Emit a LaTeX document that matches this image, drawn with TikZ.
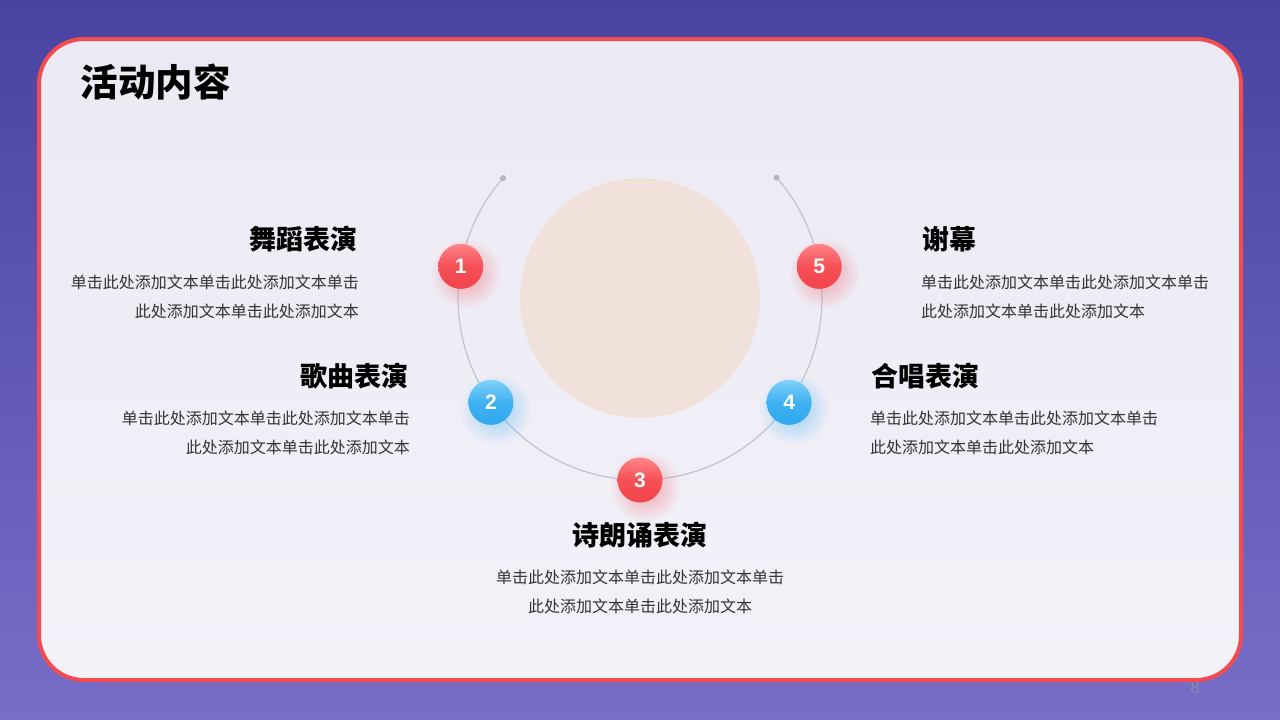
\documentclass[tikz,border=0pt]{standalone}
\usepackage{fontspec}
\newfontfamily\cjk{Noto Sans CJK SC}
\newfontfamily\digits{Liberation Sans}
\usetikzlibrary{fadings}

\definecolor{bgtop}{HTML}{4843A0}
\definecolor{bgbot}{HTML}{786EC8}
\definecolor{cardtop}{HTML}{EBEAF4}
\definecolor{cardbot}{HTML}{F3F2F9}
\definecolor{cardline}{HTML}{F24B50}
\definecolor{ringline}{HTML}{C3C3CF}
\definecolor{dotgray}{HTML}{B2B6C4}
\definecolor{disc}{HTML}{F0E2DA}
\definecolor{redhi}{HTML}{FF8487}
\definecolor{redlo}{HTML}{F2434B}
\definecolor{bluehi}{HTML}{80D2FA}
\definecolor{bluelo}{HTML}{2EA8EE}
\definecolor{bodytext}{HTML}{333333}
\definecolor{pagenum}{HTML}{8A88A8}

\tikzfading[name=glow, inner color=transparent!55, outer color=transparent!100]

\tikzset{
  ball/.style={circle, minimum size=45pt, inner sep=0pt, text=white,
    font=\digits\bfseries\fontsize{21}{21}\selectfont, shading angle=45},
  redball/.style={ball, top color=redhi, bottom color=redlo, middle color=redlo!80!redhi},
  blueball/.style={ball, top color=bluehi, bottom color=bluelo, middle color=bluelo!80!bluehi},
  head/.style={font=\cjk\bfseries\fontsize{27}{27}\selectfont, text=black, inner sep=0pt},
  body/.style={font=\cjk\fontsize{16}{29}\selectfont, text=bodytext, inner sep=0pt},
}

\begin{document}
\begin{tikzpicture}[x=1pt,y=-1pt]
\useasboundingbox (0,0) rectangle (1280,720);

% Page and card.
\shade[top color=bgtop, bottom color=bgbot] (0,0) rectangle (1280,720);
\node[font=\digits\fontsize{17}{17}\selectfont, text=pagenum] (page) at (1195,688) {8};
\shade[top color=cardtop, bottom color=cardbot, rounded corners=45pt] (39,39) rectangle (1241,680);
\draw[cardline, line width=4pt, rounded corners=45pt] (39,39) rectangle (1241,680);

\node[anchor=west, font=\cjk\bfseries\fontsize{37.5}{37.5}\selectfont] (title) at (77,82) {活动内容};

% Centre disc and ring.
\coordinate (c) at (640,298);
\fill[disc] (c) circle (120);
\coordinate (arcL) at ([shift={(221.2:182)}]c);
\coordinate (arcR) at ([shift={(-41.4:182)}]c);
\draw[ringline, line width=1.2pt] (arcL) arc[start angle=221.2, end angle=-41.4, radius=182];
\fill[dotgray] (arcL) circle (3);
\fill[dotgray] (arcR) circle (3);

% Numbered balls with soft glow.
\foreach \n/\a/\c in {1/190/red, 2/145/blue, 3/90/red, 4/35/blue, 5/-10/red}{
  \fill[\c lo, path fading=glow] ([shift={(\a:182)}]c) ++(5,7) circle (36);
  \node[\c ball] (n\n) at ([shift={(\a:182)}]c) {\n};
}

% Item texts.
\node[head, anchor=east] (h1) at (358,239) {舞蹈表演};
\node[body, anchor=east, align=right] (t1) at (359,296.5) {单击此处添加文本单击此处添加文本单击\\此处添加文本单击此处添加文本};

\node[head, anchor=east] (h2) at (409,376) {歌曲表演};
\node[body, anchor=east, align=right] (t2) at (410,432.5) {单击此处添加文本单击此处添加文本单击\\此处添加文本单击此处添加文本};

\node[head] (h3) at (640,535) {诗朗诵表演};
\node[body, align=center] (t3) at (640,591.5) {单击此处添加文本单击此处添加文本单击\\此处添加文本单击此处添加文本};

\node[head, anchor=west] (h4) at (871,376) {合唱表演};
\node[body, anchor=west, align=left] (t4) at (870,432.5) {单击此处添加文本单击此处添加文本单击\\此处添加文本单击此处添加文本};

\node[head, anchor=west] (h5) at (922,239) {谢幕};
\node[body, anchor=west, align=left] (t5) at (921,296.5) {单击此处添加文本单击此处添加文本单击\\此处添加文本单击此处添加文本};
\end{tikzpicture}
\end{document}
